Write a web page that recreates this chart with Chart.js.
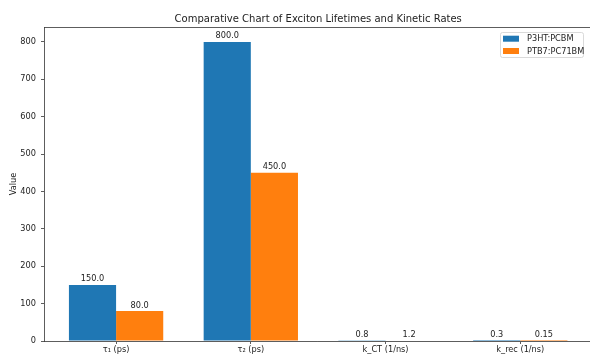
<!DOCTYPE html>
<html>
<head>
<meta charset="utf-8">
<script src="https://cdn.jsdelivr.net/npm/chart.js@4.4.1/dist/chart.umd.min.js"></script>
<style>
  html, body { margin: 0; padding: 0; background: #fff; }
  #wrap { width: 590px; height: 356px; }
</style>
</head>
<body>
<div id="wrap"><canvas id="rates-chart" width="590" height="356"></canvas></div>
<script>
// chart data
const categories = ['τ₁ (ps)', 'τ₂ (ps)', 'k_CT (1/ns)', 'k_rec (1/ns)'];
const seriesNames = ['P3HT:PCBM', 'PTB7:PC71BM'];
const p3htValues = [150, 800, 0.8, 0.3];
const ptb7Values = [80, 450, 1.2, 0.15];
const p3htLabels = ['150.0', '800.0', '0.8', '0.3'];
const ptb7Labels = ['80.0', '450.0', '1.2', '0.15'];
const yTicks = [0, 100, 200, 300, 400, 500, 600, 700, 800];
const chartTitle = 'Comparative Chart of Exciton Lifetimes and Kinetic Rates';

const FONT = 'DejaVu Sans';
const TEXT = '#222';

document.addEventListener('DOMContentLoaded', function() {
    const ctx = document.getElementById('rates-chart').getContext('2d');

    // title, value text over each bar, top spine and the legend box
    const extras = {
        id: 'extras',
        afterDatasetsDraw(chart) {
            const c = chart.ctx;
            const area = chart.chartArea;
            const xs = chart.scales.x;
            c.save();

            // title centred over the axes
            c.font = '10px "' + FONT + '"';
            c.fillStyle = TEXT;
            c.textAlign = 'center';
            c.textBaseline = 'middle';
            c.fillText(chartTitle, xs.getPixelForValue(1.5), 19);

            c.font = '8.2px "' + FONT + '"';
            c.textBaseline = 'alphabetic';
            chart.data.datasets.forEach((ds, di) => {
                const meta = chart.getDatasetMeta(di);
                meta.data.forEach((bar, i) => {
                    c.fillText(ds.valueLabels[i], bar.x, bar.y - 3.5);
                });
            });

            // top spine
            c.strokeStyle = '#333';
            c.lineWidth = 0.8;
            c.beginPath();
            c.moveTo(area.left, area.top + 0.5);
            c.lineTo(chart.width, area.top + 0.5);
            c.stroke();

            // legend
            const lx = 500, ly = 32, lw = 83, lh = 25;
            c.fillStyle = 'rgba(255,255,255,0.8)';
            c.strokeStyle = '#d0d0d0';
            c.lineWidth = 0.8;
            c.beginPath();
            c.roundRect(lx + 0.5, ly + 0.5, lw, lh, 2);
            c.fill();
            c.stroke();
            c.textAlign = 'left';
            c.textBaseline = 'middle';
            chart.data.datasets.forEach((ds, di) => {
                const ry = ly + 6.7 + di * 12.3;
                c.fillStyle = ds.backgroundColor;
                c.fillRect(503, ry - 3, 16, 6);
                c.fillStyle = TEXT;
                c.fillText(ds.label, 527, ry + 0.5);
            });
            c.restore();
        }
    };

    new Chart(ctx, {
        type: 'bar',
        data: {
            datasets: [{
                label: seriesNames[0],
                data: p3htValues.map((v, i) => ({ x: i, y: v })),
                valueLabels: p3htLabels,
                backgroundColor: '#1f77b4',
                borderWidth: 0
            }, {
                label: seriesNames[1],
                data: ptb7Values.map((v, i) => ({ x: i, y: v })),
                valueLabels: ptb7Labels,
                backgroundColor: '#ff7f0e',
                borderWidth: 0
            }]
        },
        options: {
            responsive: false,
            animation: false,
            categoryPercentage: 0.7,
            barPercentage: 1.0,
            layout: { padding: { left: 0, right: 1, top: 27, bottom: 0 } },
            plugins: {
                legend: { display: false },
                tooltip: { enabled: false },
                title: { display: false }
            },
            scales: {
                x: {
                    type: 'linear',
                    offset: false,
                    min: -0.535,
                    max: 3.51,
                    afterBuildTicks: (scale) => {
                        scale.ticks = categories.map((c, i) => ({ value: i }));
                    },
                    afterFit: (scale) => { scale.height = 15; },
                    grid: { display: true, offset: false, drawOnChartArea: false, tickLength: 3, tickColor: '#333', tickWidth: 0.8 },
                    border: { color: '#333', width: 0.8 },
                    ticks: {
                        autoSkip: false,
                        maxRotation: 0,
                        padding: 1,
                        color: TEXT,
                        font: { family: FONT, size: 8.2 },
                        callback: (v) => categories[v]
                    }
                },
                y: {
                    min: 0,
                    max: 840,
                    afterBuildTicks: (scale) => {
                        scale.ticks = yTicks.map(v => ({ value: v }));
                    },
                    afterFit: (scale) => { scale.width = 44; },
                    grid: { display: true, drawOnChartArea: false, tickLength: 3, tickColor: '#333', tickWidth: 0.8 },
                    border: { color: '#333', width: 0.8 },
                    ticks: {
                        padding: 5,
                        color: TEXT,
                        font: { family: FONT, size: 8.2 }
                    },
                    title: {
                        display: true,
                        text: 'Value',
                        color: TEXT,
                        font: { family: FONT, size: 8.2 },
                        padding: { top: 9, bottom: 0 }
                    }
                }
            }
        },
        plugins: [extras]
    });
});
</script>
</body>
</html>
